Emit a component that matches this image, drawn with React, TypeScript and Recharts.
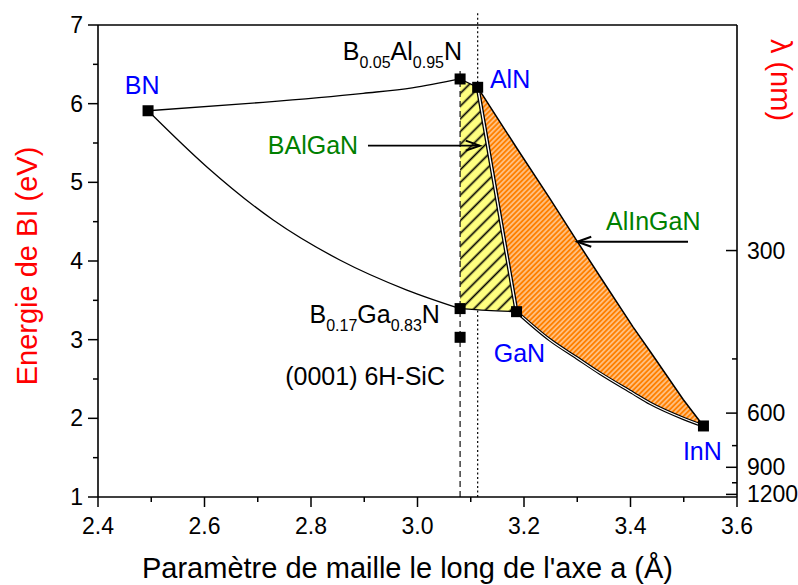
import React from "react";
import {
  ComposedChart,
  XAxis,
  YAxis,
  Line,
  Area,
  Scatter,
  ReferenceLine,
  ReferenceDot,
} from "recharts";

const FONT = "'Liberation Sans', Arial, sans-serif";

// binary / ternary end points (a in Å, gap in eV)
const compounds = [
  { name: "BN", a: 2.494, e: 5.91 },
  { name: "B0.05Al0.95N", a: 3.08, e: 6.314 },
  { name: "AlN", a: 3.113, e: 6.208 },
  { name: "B0.17Ga0.83N", a: 3.08, e: 3.395 },
  { name: "6H-SiC", a: 3.08, e: 3.03 },
  { name: "GaN", a: 3.186, e: 3.356 },
  { name: "InN", a: 3.537, e: 1.903 },
];

// boundary curves
const bnToBAlN = [
  { a: 2.494, e: 5.91 },
  { a: 2.71, e: 6.017 },
  { a: 2.898, e: 6.132 },
  { a: 2.99, e: 6.2 },
  { a: 3.08, e: 6.314 },
];
const bAlNToAlN = [
  { a: 3.08, e: 6.314 },
  { a: 3.113, e: 6.208 },
];
const bnToBGaN = [
  { a: 2.494, e: 5.91 },
  { a: 2.604, e: 5.199 },
  { a: 2.729, e: 4.521 },
  { a: 2.854, e: 4.013 },
  { a: 2.98, e: 3.631 },
  { a: 3.08, e: 3.395 },
];
const bGaNToGaN = [
  { a: 3.08, e: 3.395 },
  { a: 3.13, e: 3.372 },
  { a: 3.186, e: 3.356 },
];
const alnToGaN = [
  { a: 3.113, e: 6.208 },
  { a: 3.186, e: 3.356 },
];
const alnToInN = [
  { a: 3.113, e: 6.208 },
  { a: 3.186, e: 5.44 },
  { a: 3.249, e: 4.79 },
  { a: 3.299, e: 4.26 },
  { a: 3.343, e: 3.8 },
  { a: 3.405, e: 3.16 },
  { a: 3.437, e: 2.85 },
  { a: 3.499, e: 2.24 },
  { a: 3.537, e: 1.903 },
];
const gaNToInN = [
  { a: 3.186, e: 3.356 },
  { a: 3.249, e: 2.996 },
  { a: 3.299, e: 2.77 },
  { a: 3.343, e: 2.572 },
  { a: 3.405, e: 2.32 },
  { a: 3.437, e: 2.191 },
  { a: 3.499, e: 2.0 },
  { a: 3.537, e: 1.903 },
];

// filled zones [low, high]
const bAlGaNZone = [
  { a: 3.08, r: [3.395, 6.314] },
  { a: 3.113, r: [3.385, 6.208] },
  { a: 3.186, r: [3.356, 3.356] },
];
const alInGaNZone = [
  { a: 3.113, r: [6.208, 6.208] },
  { a: 3.186, r: [3.356, 5.44] },
  { a: 3.249, r: [2.996, 4.79] },
  { a: 3.299, r: [2.77, 4.26] },
  { a: 3.343, r: [2.572, 3.8] },
  { a: 3.405, r: [2.32, 3.16] },
  { a: 3.437, r: [2.191, 2.85] },
  { a: 3.499, r: [2.0, 2.24] },
  { a: 3.537, r: [1.903, 1.903] },
];

// ticks
const xMajor = [2.4, 2.6, 2.8, 3.0, 3.2, 3.4, 3.6];
const xMinor = [2.5, 2.7, 2.9, 3.1, 3.3, 3.5];
const yMajor = [1, 2, 3, 4, 5, 6, 7];
const yMinor = [1.5, 2.5, 3.5, 4.5, 5.5, 6.5];
const lambdaMajor = [300, 600, 900, 1200];
const lambdaMinor = [450, 750, 1050];
const HC = 1239.84;

const xTicks = [...xMajor, ...xMinor].sort((p, q) => p - q);
const yTicks = [...yMajor, ...yMinor].sort((p, q) => p - q);
const rightTicks = [...lambdaMajor, ...lambdaMinor].map((l) => HC / l).sort((p, q) => p - q);

const has = (arr: number[], v: number) => arr.some((t) => Math.abs(t - v) < 1e-6);

const BottomTick = (p: any) => {
  const v = p.payload.value;
  const major = has(xMajor, v);
  return (
    <g>
      <line x1={p.x} x2={p.x} y1={p.y} y2={p.y + (major ? 10 : 5)} stroke="#000" strokeWidth={1.5} />
      {major && (
        <text x={p.x} y={p.y + 37} textAnchor="middle" fontSize={23} fontFamily={FONT} fill="#000">
          {v.toFixed(1)}
        </text>
      )}
    </g>
  );
};

const TopTick = (p: any) => (
  <line x1={p.x} x2={p.x} y1={p.y} y2={p.y + 5} stroke="#000" strokeWidth={1.5} />
);

const LeftTick = (p: any) => {
  const v = p.payload.value;
  const major = has(yMajor, v);
  return (
    <g>
      <line x1={p.x - (major ? 10 : 5)} x2={p.x} y1={p.y} y2={p.y} stroke="#000" strokeWidth={1.5} />
      {major && (
        <text x={p.x - 15} y={p.y + 8} textAnchor="end" fontSize={23} fontFamily={FONT} fill="#000">
          {v}
        </text>
      )}
    </g>
  );
};

const RightTick = (p: any) => {
  const lambda = Math.round(HC / p.payload.value);
  const major = has(lambdaMajor, lambda);
  return (
    <g>
      <line x1={p.x - (major ? 11 : 5)} x2={p.x} y1={p.y} y2={p.y} stroke="#000" strokeWidth={1.5} />
      {major && (
        <text x={p.x + 10} y={p.y + 8} textAnchor="start" fontSize={23} fontFamily={FONT} fill="#000">
          {lambda}
        </text>
      )}
    </g>
  );
};

const Square = (p: any) => (
  <rect x={p.cx - 5.5} y={p.cy - 5.5} width={11} height={11} fill="#000" />
);

const textShape =
  (content: React.ReactNode, color: string, anchor: string) => (p: any) => (
    <text x={p.cx} y={p.cy} textAnchor={anchor} fontSize={25} fontFamily={FONT} fill={color}>
      {content}
    </text>
  );

const arrowShape = (p: any) => {
  const { x1, y1, x2, y2 } = p;
  const ang = Math.atan2(y2 - y1, x2 - x1);
  const L = 14;
  const W = 5;
  const bx = x2 - L * Math.cos(ang);
  const by = y2 - L * Math.sin(ang);
  const nx = -Math.sin(ang) * W;
  const ny = Math.cos(ang) * W;
  return (
    <g>
      <line x1={x1} y1={y1} x2={x2} y2={y2} stroke="#000" strokeWidth={1.8} />
      <polyline
        points={`${bx + nx},${by + ny} ${x2},${y2} ${bx - nx},${by - ny}`}
        fill="none"
        stroke="#000"
        strokeWidth={2}
      />
    </g>
  );
};

const subStyle = { fontSize: 16 };

const XTitle = (p: any) => {
  const vb = p.viewBox;
  return (
    <text x={vb.x + vb.width / 2 - 10} y={vb.y + 81} textAnchor="middle" fontSize={29} fontFamily={FONT} fill="#000">
      Paramètre de maille le long de l'axe a (Å)
    </text>
  );
};

const YTitle = (p: any) => {
  const vb = p.viewBox;
  const x = vb.x + 37;
  const y = vb.y + vb.height / 2 + 5;
  return (
    <text x={x} y={y} transform={`rotate(-90, ${x}, ${y})`} textAnchor="middle" fontSize={29} fontFamily={FONT} fill="#ff0000">
      Energie de BI (eV)
    </text>
  );
};

const RTitle = (p: any) => {
  const vb = p.viewBox;
  const x = vb.x + 34;
  const y = vb.y + 55;
  return (
    <text x={x} y={y} transform={`rotate(90, ${x}, ${y})`} textAnchor="middle" fontSize={29} fontFamily={FONT} fill="#ff0000">
      λ (nm)
    </text>
  );
};

const axisLine = { stroke: "#000", strokeWidth: 1.6 };

export default function App() {
  return (
    <div style={{ position: "absolute", left: 0, top: 0, background: "#fff" }}>
      <ComposedChart width={798} height={585} margin={{ top: 24, right: 0, bottom: 0, left: 0 }}>
        <defs>
          <pattern id="hatchYellow" patternUnits="userSpaceOnUse" width={9} height={9} patternTransform="rotate(45)">
            <rect width={9} height={9} fill="#ffff80" />
            <line x1={4.5} y1={0} x2={4.5} y2={9} stroke="#000" strokeWidth={1.7} />
          </pattern>
          <pattern id="hatchOrange" patternUnits="userSpaceOnUse" width={3.6} height={3.6} patternTransform="rotate(45)">
            <rect width={3.6} height={3.6} fill="#ff8000" />
            <line x1={1.8} y1={0} x2={1.8} y2={3.6} stroke="#fff" strokeWidth={0.9} />
          </pattern>
        </defs>

        <XAxis
          dataKey="a"
          type="number"
          domain={[2.4, 3.6]}
          ticks={xTicks}
          interval={0}
          height={88}
          tickSize={0}
          tickMargin={0}
          tickLine={false}
          tick={BottomTick}
          axisLine={axisLine}
          allowDataOverflow
          label={{ content: XTitle }}
        />
        <XAxis
          xAxisId="top"
          orientation="top"
          type="number"
          domain={[2.4, 3.6]}
          ticks={xTicks}
          interval={0}
          height={1}
          tickSize={0}
          tickMargin={0}
          tickLine={false}
          tick={TopTick}
          axisLine={axisLine}
          allowDataOverflow
        />
        <YAxis
          dataKey="e"
          type="number"
          domain={[1, 7]}
          ticks={yTicks}
          interval={0}
          width={98}
          tickSize={0}
          tickMargin={0}
          tickLine={false}
          tick={LeftTick}
          axisLine={axisLine}
          allowDataOverflow
          label={{ content: YTitle }}
        />
        <YAxis
          yAxisId="right"
          orientation="right"
          type="number"
          domain={[1, 7]}
          ticks={rightTicks}
          interval={0}
          width={61}
          tickSize={0}
          tickMargin={0}
          tickLine={false}
          tick={RightTick}
          axisLine={axisLine}
          allowDataOverflow
          label={{ content: RTitle }}
        />

        {/* dashed line of the 6H-SiC lattice parameter, dotted line of AlN */}
        <ReferenceLine
          segment={[{ x: 3.08, y: 1 }, { x: 3.08, y: 6.46 }]}
          stroke="#222"
          strokeWidth={1.3}
          strokeDasharray="6 4"
          ifOverflow="visible"
        />
        <ReferenceLine
          segment={[{ x: 3.113, y: 1 }, { x: 3.113, y: 3.385 }]}
          stroke="#000"
          strokeWidth={1.2}
          strokeDasharray="2 2.5"
          ifOverflow="visible"
        />
        <ReferenceLine
          segment={[{ x: 3.113, y: 6.208 }, { x: 3.113, y: 7.17 }]}
          stroke="#000"
          strokeWidth={1.2}
          strokeDasharray="2 2.5"
          ifOverflow="visible"
        />

        <Area data={bAlGaNZone} dataKey="r" type="linear" stroke="none" fill="url(#hatchYellow)" fillOpacity={1} isAnimationActive={false} activeDot={false} />
        <Area data={alInGaNZone} dataKey="r" type="linear" stroke="none" fill="url(#hatchOrange)" fillOpacity={1} isAnimationActive={false} activeDot={false} />

        <Line data={bnToBAlN} dataKey="e" type="monotone" stroke="#000" strokeWidth={1.3} dot={false} activeDot={false} isAnimationActive={false} />
        <Line data={bAlNToAlN} dataKey="e" type="linear" stroke="#000" strokeWidth={1.3} dot={false} activeDot={false} isAnimationActive={false} />
        <Line data={bnToBGaN} dataKey="e" type="monotone" stroke="#000" strokeWidth={1.3} dot={false} activeDot={false} isAnimationActive={false} />
        <Line data={bGaNToGaN} dataKey="e" type="monotone" stroke="#000" strokeWidth={1.3} dot={false} activeDot={false} isAnimationActive={false} />
        <Line data={alnToInN} dataKey="e" type="linear" stroke="#000" strokeWidth={1.5} dot={false} activeDot={false} isAnimationActive={false} />
        <Line data={alnToGaN} dataKey="e" type="linear" stroke="#000" strokeWidth={4} dot={false} activeDot={false} isAnimationActive={false} />
        <Line data={alnToGaN} dataKey="e" type="linear" stroke="#fff" strokeWidth={1.4} dot={false} activeDot={false} isAnimationActive={false} />
        <Line data={gaNToInN} dataKey="e" type="monotone" stroke="#000" strokeWidth={3.4} dot={false} activeDot={false} isAnimationActive={false} />
        <Line data={gaNToInN} dataKey="e" type="monotone" stroke="#fff" strokeWidth={1.1} dot={false} activeDot={false} isAnimationActive={false} />

        <Scatter data={compounds} dataKey="e" shape={Square} isAnimationActive={false} />

        {/* arrows to the two alloy zones */}
        <ReferenceLine segment={[{ x: 2.907, y: 5.466 }, { x: 3.117, y: 5.466 }]} shape={arrowShape} />
        <ReferenceLine segment={[{ x: 3.508, y: 4.245 }, { x: 3.3, y: 4.245 }]} shape={arrowShape} />

        {/* annotations */}
        <ReferenceDot x={2.483} y={6.123} r={0} shape={textShape("BN", "#0000ff", "middle")} />
        <ReferenceDot x={3.136} y={6.2} r={0} shape={textShape("AlN", "#0000ff", "start")} />
        <ReferenceDot x={3.1915} y={2.716} r={0} shape={textShape("GaN", "#0000ff", "middle")} />
        <ReferenceDot x={3.535} y={1.47} r={0} shape={textShape("InN", "#0000ff", "middle")} />
        <ReferenceDot x={2.719} y={5.36} r={0} shape={textShape("BAlGaN", "#008000", "start")} />
        <ReferenceDot x={3.354} y={4.394} r={0} shape={textShape("AlInGaN", "#008000", "start")} />
        <ReferenceDot x={3.0516} y={2.424} r={0} shape={textShape("(0001) 6H-SiC", "#000", "end")} />
        <ReferenceDot
          x={3.0836}
          y={6.555}
          r={0}
          shape={textShape(
            <>
              <tspan>B</tspan>
              <tspan dy={8} style={subStyle}>0.05</tspan>
              <tspan dy={-8}>Al</tspan>
              <tspan dy={8} style={subStyle}>0.95</tspan>
              <tspan dy={-8}>N</tspan>
            </>,
            "#000",
            "end"
          )}
        />
        <ReferenceDot
          x={3.042}
          y={3.212}
          r={0}
          shape={textShape(
            <>
              <tspan>B</tspan>
              <tspan dy={8} style={subStyle}>0.17</tspan>
              <tspan dy={-8}>Ga</tspan>
              <tspan dy={8} style={subStyle}>0.83</tspan>
              <tspan dy={-8}>N</tspan>
            </>,
            "#000",
            "end"
          )}
        />
      </ComposedChart>
    </div>
  );
}
